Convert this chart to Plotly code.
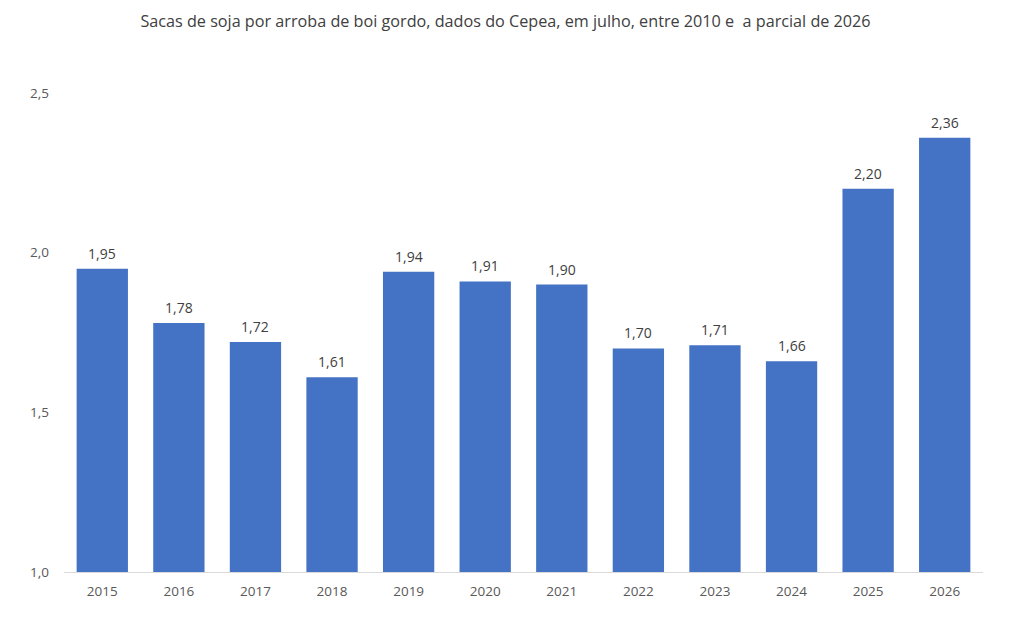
import plotly.graph_objects as go

years = ["2015", "2016", "2017", "2018", "2019", "2020", "2021", "2022", "2023", "2024", "2025", "2026"]
values = [1.95, 1.78, 1.72, 1.61, 1.94, 1.91, 1.90, 1.70, 1.71, 1.66, 2.20, 2.36]
y_ticks = [1.0, 1.5, 2.0, 2.5]

title = "Sacas de soja por arroba de boi gordo, dados do Cepea, em julho, entre 2010 e  a parcial de 2026"

fig = go.Figure(go.Bar(
    x=years, y=values,
    marker=dict(color="#4472C4", line=dict(width=0)),
    width=0.67,
    cliponaxis=False,
))

# label each bar; on a category axis the annotation x is the category index
for i, v in enumerate(values):
    fig.add_annotation(x=i, y=v, xref="x", yref="y", text=f"{v:.2f}".replace(".", ","),
                       showarrow=False, yanchor="bottom", yshift=4,
                       font=dict(size=14, color="#404040", family="Open Sans"))

fig.update_layout(
    width=1011, height=630,
    margin=dict(l=64, r=28, t=93, b=58),
    paper_bgcolor="white", plot_bgcolor="white",
    separators=",.",
    font=dict(family="Open Sans", color="#595959", size=13),
    title=dict(text=title, x=0.5, xanchor="center", y=1 - 21 / 630, yanchor="middle",
               font=dict(size=16.2, color="#404040", family="Open Sans")),
    showlegend=False,
)
fig.update_xaxes(type="category", range=[-0.5, len(years) - 0.5],
                 showline=True, linecolor="#D9D9D9", linewidth=1, ticks="",
                 ticklabelstandoff=7,
                 tickfont=dict(size=13.5, color="#595959"), showgrid=False)
fig.update_yaxes(range=[1.0, 2.5], tickvals=y_ticks, tickformat=".1f", showgrid=False,
                 showline=False, zeroline=False, ticks="", ticklabelstandoff=14,
                 tickfont=dict(size=13.5, color="#595959"))

fig.write_html("out.html")
